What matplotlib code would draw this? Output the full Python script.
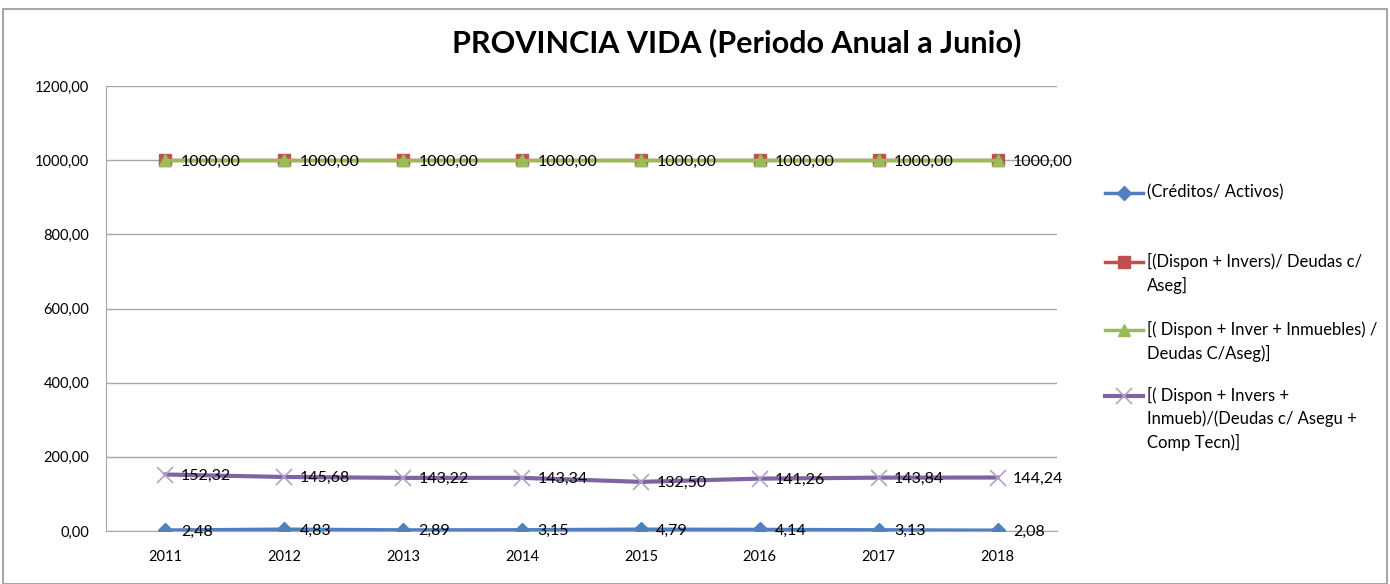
import numpy as np
import matplotlib.pyplot as plt
from matplotlib.patches import Rectangle
from matplotlib.lines import Line2D

plt.rcParams['font.family'] = ['Lato', 'DejaVu Sans']

years = ['2011', '2012', '2013', '2014', '2015', '2016', '2017', '2018']
creditos = [2.48, 4.83, 2.89, 3.15, 4.79, 4.14, 3.13, 2.08]
dispon_invers = [1000.0] * 8
dispon_inmuebles = [1000.0] * 8
dispon_comp = [152.32, 145.68, 143.22, 143.34, 132.50, 141.26, 143.84, 144.24]

labels = ['(Créditos/ Activos)',
          '[(Dispon + Invers)/ Deudas c/\nAseg]',
          '[( Dispon + Inver + Inmuebles) /\nDeudas C/Aseg)]',
          '[( Dispon + Invers +\nInmueb)/(Deudas c/ Asegu +\nComp Tecn)]']


def fmt(v):
    return f'{v:.2f}'.replace('.', ',')


W, H = 1390, 584
fig = plt.figure(figsize=(W / 100, H / 100), dpi=100)
fig.patches.append(Rectangle((0.002, 0.0), 0.996, 0.985, transform=fig.transFigure,
                             fill=False, edgecolor='#a6a6a6', lw=1.5))
ax = fig.add_axes([106 / W, 53 / H, 951 / W, 445 / H])
x = np.arange(len(years))

styles = [
    dict(color='#4F81BD', lw=2.5, marker='D', ms=7),
    dict(color='#C0504D', lw=2.5, marker='s', ms=9),
    dict(color='#9BBB59', lw=2.5, marker='^', ms=9),
    dict(color='#8064A2', lw=3, marker='x', ms=11, mec='#B3A2C7', mew=1.2),
]
for series, st, z in zip((creditos, dispon_invers, dispon_inmuebles, dispon_comp), styles, (3, 3, 4, 3)):
    ax.plot(x, series, zorder=z, **st)

for series in (creditos, dispon_invers, dispon_comp):
    for xi, v in zip(x, series):
        ax.annotate(fmt(v), (xi, v), xytext=(11, -1), textcoords='offset points',
                    ha='left', va='center', fontsize=11.5, color='black', zorder=5)

ax.set_xlim(-0.5, len(years) - 0.5)
ax.set_ylim(0, 1200)
ax.set_yticks(np.arange(0, 1201, 200))
ax.set_yticklabels([fmt(v) for v in np.arange(0, 1201, 200)], fontsize=10.5)
ax.set_xticks(x)
ax.set_xticklabels(years, fontsize=10.5)
ax.tick_params(axis='x', length=0, pad=14)
ax.tick_params(axis='y', length=0, pad=12)
ax.grid(axis='y', color='#a6a6a6', lw=1)
ax.set_axisbelow(True)
for s in ('top', 'right'):
    ax.spines[s].set_visible(False)
for s in ('left', 'bottom'):
    ax.spines[s].set_color('#a6a6a6')

fig.text(737 / W, 1 - 43 / H, 'PROVINCIA VIDA (Periodo Anual a Junio)', ha='center', va='center',
         fontsize=22, fontweight='bold')

# legend drawn entry by entry, handle aligned with the first text line (as in Excel)
leg_y = [193, 262, 330, 396]
for lab, st, y in zip(labels, styles, leg_y):
    yf = 1 - y / H
    fig.add_artist(Line2D([1105 / W, 1143 / W], [yf, yf], transform=fig.transFigure,
                          color=st['color'], lw=st['lw']))
    fig.add_artist(Line2D([1124 / W], [yf], transform=fig.transFigure, ls='none',
                          marker=st['marker'], ms=st['ms'], color=st['color'],
                          mec=st.get('mec', st['color']), mew=st.get('mew', 1)))
    fig.text(1147 / W, yf + 9 / H, lab, ha='left', va='top', fontsize=12,
             linespacing=1.5)

fig.savefig('out.png', dpi=100)
